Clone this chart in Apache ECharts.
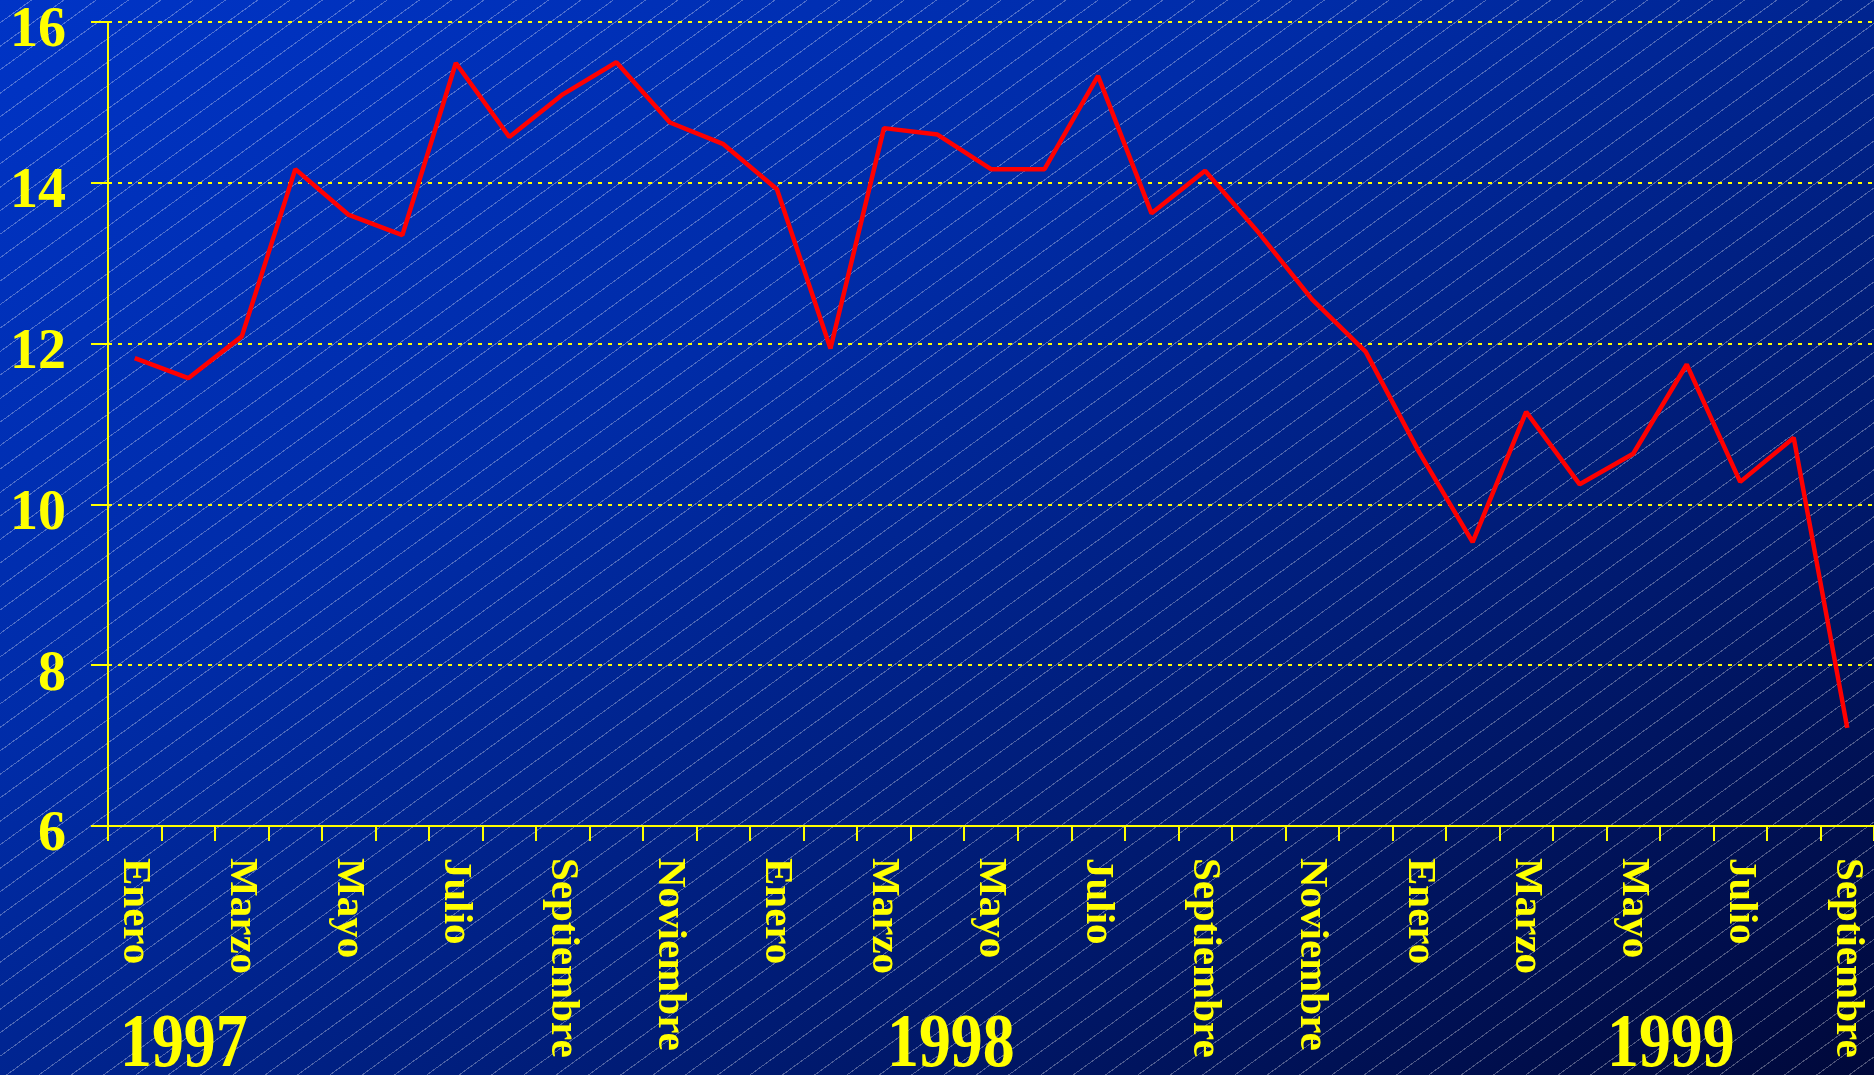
<!DOCTYPE html>
<html>
<head>
<meta charset="utf-8">
<script src="https://cdn.jsdelivr.net/npm/echarts@6/dist/echarts.min.js"></script>
<style>
  html, body { margin: 0; padding: 0; }
  #main {
    width: 1874px;
    height: 1075px;
    background:
      repeating-linear-gradient(144deg, rgba(255,255,255,0) 0px, rgba(255,255,255,0) 18px, rgba(255,255,255,0.3) 18px, rgba(255,255,255,0.3) 19px),
      linear-gradient(to bottom right, #0034c6 0%, #002ca8 35%, #001a70 70%, #00083a 100%);
  }
</style>
</head>
<body>
<div id="main"></div>
<script>
// meses ene 1997 - sep 1999
var meses = [
  'Enero', 'Febrero', 'Marzo', 'Abril', 'Mayo', 'Junio', 'Julio', 'Agosto', 'Septiembre', 'Octubre', 'Noviembre', 'Diciembre',
  'Enero', 'Febrero', 'Marzo', 'Abril', 'Mayo', 'Junio', 'Julio', 'Agosto', 'Septiembre', 'Octubre', 'Noviembre', 'Diciembre',
  'Enero', 'Febrero', 'Marzo', 'Abril', 'Mayo', 'Junio', 'Julio', 'Agosto', 'Septiembre'
];
var valores = [
  11.82, 11.57, 12.09, 14.17, 13.60, 13.35, 15.49, 14.57, 15.10, 15.50, 14.75, 14.48,
  13.92, 11.94, 14.68, 14.60, 14.17, 14.17, 15.33, 13.62, 14.15, 13.38, 12.55, 11.90,
  10.65, 9.53, 11.15, 10.25, 10.63, 11.74, 10.28, 10.83, 7.22
];
var anios = ['1997', '1998', '1999'];
var aniosX = [120, 887, 1607];

var amarillo = '#ffff00';
var fuente = '"Liberation Serif", "Times New Roman", serif';

var myChart = echarts.init(document.getElementById('main'));

var textos = anios.map(function (a, i) {
  return {
    type: 'text',
    x: aniosX[i],
    y: 1046,
    scaleX: 0.84,
    style: {
      text: a,
      fill: amarillo,
      font: 'bold 76px ' + fuente,
      textAlign: 'left',
      textVerticalAlign: 'middle',
      shadowColor: 'rgba(0,0,0,0.9)',
      shadowOffsetX: 3,
      shadowOffsetY: 3,
      shadowBlur: 1
    }
  };
});

myChart.setOption({
  backgroundColor: 'transparent',
  animation: false,
  grid: { left: 108, right: 0, top: 22, bottom: 249, containLabel: false, outerBoundsMode: 'none' },
  xAxis: {
    type: 'category',
    data: meses,
    boundaryGap: true,
    axisLine: { show: true, lineStyle: { color: amarillo, width: 2 } },
    axisTick: { show: true, interval: 0, length: 15, lineStyle: { color: amarillo, width: 2 } },
    axisLabel: {
      interval: 1,
      rotate: -90,
      margin: 32,
      color: amarillo,
      fontFamily: fuente,
      fontWeight: 'bold',
      fontSize: 41
    },
    splitLine: { show: false }
  },
  yAxis: {
    type: 'value',
    min: 6,
    max: 16,
    interval: 2,
    axisLine: { show: true, lineStyle: { color: amarillo, width: 2 } },
    axisTick: { show: true, length: 17, lineStyle: { color: amarillo, width: 2 } },
    axisLabel: {
      margin: 42,
      verticalAlign: 'top',
      lineHeight: 20,
      color: amarillo,
      fontFamily: fuente,
      fontWeight: 'bold',
      fontSize: 56
    },
    splitLine: { show: true, lineStyle: { color: amarillo, width: 2, type: [4, 6] } }
  },
  series: [{
    type: 'line',
    data: valores,
    symbol: 'none',
    lineStyle: { color: '#ff0000', width: 4.5 }
  }],
  graphic: textos
});
</script>
</body>
</html>
